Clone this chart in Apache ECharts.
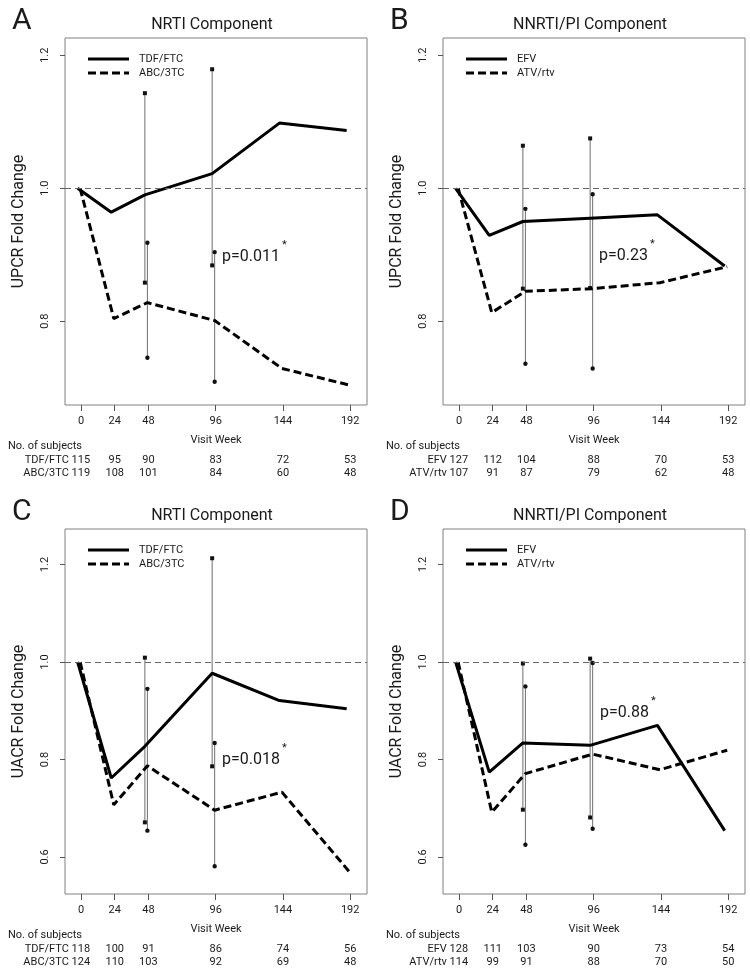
<!DOCTYPE html>
<html><head><meta charset="utf-8">
<script src="https://cdn.jsdelivr.net/npm/echarts@6/dist/echarts.min.js"></script>
<style>html,body{margin:0;padding:0;background:#fff}#c{width:750px;height:977px}</style>
</head><body><div id="c"></div>
<script>
// ---------- data ----------
const weeks = [0, 24, 48, 96, 144, 192];
const xTickLabels = [0, 24, 48, 96, 144, 192];

// Panel A (UPCR, NRTI)
const aTdfFtc = [1.000, 0.964, 0.990, 1.022, 1.098, 1.087];
const aAbc3tc = [1.000, 0.804, 0.828, 0.801, 0.729, 0.704];
const aTdfFtcErr = [[48, 0.858, 1.143], [96, 0.884, 1.179]];
const aAbc3tcErr = [[48, 0.745, 0.918], [96, 0.709, 0.904]];
const aTdfFtcN = [115, 95, 90, 83, 72, 53];
const aAbc3tcN = [119, 108, 101, 84, 60, 48];

// Panel B (UPCR, NNRTI/PI)
const bEfv = [1.000, 0.929, 0.950, 0.955, 0.960, 0.883];
const bAtvRtv = [1.000, 0.813, 0.845, 0.849, 0.858, 0.882];
const bEfvErr = [[48, 0.849, 1.064], [96, 0.850, 1.075]];
const bAtvRtvErr = [[48, 0.736, 0.969], [96, 0.729, 0.991]];
const bEfvN = [127, 112, 104, 88, 70, 53];
const bAtvRtvN = [107, 91, 87, 79, 62, 48];

// Panel C (UACR, NRTI)
const cTdfFtc = [1.000, 0.762, 0.827, 0.977, 0.921, 0.904];
const cAbc3tc = [1.000, 0.707, 0.787, 0.696, 0.733, 0.570];
const cTdfFtcErr = [[48, 0.671, 1.009], [96, 0.786, 1.213]];
const cAbc3tcErr = [[48, 0.654, 0.945], [96, 0.581, 0.834]];
const cTdfFtcN = [118, 100, 91, 86, 74, 56];
const cAbc3tcN = [124, 110, 103, 92, 69, 48];

// Panel D (UACR, NNRTI/PI)
const dEfv = [1.000, 0.774, 0.834, 0.829, 0.870, 0.654];
const dAtvRtv = [1.000, 0.692, 0.771, 0.811, 0.779, 0.819];
const dEfvErr = [[48, 0.697, 0.997], [96, 0.681, 1.007]];
const dAtvRtvErr = [[48, 0.625, 0.950], [96, 0.658, 0.998]];
const dEfvN = [128, 111, 103, 90, 73, 54];
const dAtvRtvN = [114, 99, 91, 88, 70, 50];

const pValues = ['p=0.011', 'p=0.23', 'p=0.018', 'p=0.88'];
const yTicksTop = [0.8, 1.0, 1.2];
const yTicksBottom = [0.6, 0.8, 1.0, 1.2];

// small horizontal jitter used in the original so the two groups don't overlap
const SOLID_SHIFT = -2.5;
const DASH_SHIFT = -0.7;

// ---------- layout / style ----------
const FONT = 'Roboto';
const TXT = '#1a1a1a';
const panels = [
  {letter:'A', title:'NRTI Component', yName:'UPCR Fold Change', names:['TDF/FTC','ABC/3TC'],
   s:aTdfFtc, d:aAbc3tc, sE:aTdfFtcErr, dE:aAbc3tcErr, sN:aTdfFtcN, dN:aAbc3tcN,
   grid:{left:65, top:38, width:302, height:367}, yMin:0.674, yMax:1.226, yTicks:yTicksTop,
   p:pValues[0], pPos:[222, 257]},
  {letter:'B', title:'NNRTI/PI Component', yName:'UPCR Fold Change', names:['EFV','ATV/rtv'],
   s:bEfv, d:bAtvRtv, sE:bEfvErr, dE:bAtvRtvErr, sN:bEfvN, dN:bAtvRtvN,
   grid:{left:443, top:38, width:302, height:367}, yMin:0.674, yMax:1.226, yTicks:yTicksTop,
   p:pValues[1], pPos:[599, 256]},
  {letter:'C', title:'NRTI Component', yName:'UACR Fold Change', names:['TDF/FTC','ABC/3TC'],
   s:cTdfFtc, d:cAbc3tc, sE:cTdfFtcErr, dE:cAbc3tcErr, sN:cTdfFtcN, dN:cAbc3tcN,
   grid:{left:65, top:529, width:302, height:365}, yMin:0.524, yMax:1.273, yTicks:yTicksBottom,
   p:pValues[2], pPos:[222, 760]},
  {letter:'D', title:'NNRTI/PI Component', yName:'UACR Fold Change', names:['EFV','ATV/rtv'],
   s:dEfv, d:dAtvRtv, sE:dEfvErr, dE:dAtvRtvErr, sN:dEfvN, dN:dAtvRtvN,
   grid:{left:443, top:529, width:302, height:365}, yMin:0.524, yMax:1.273, yTicks:yTicksBottom,
   p:pValues[3], pPos:[600, 713]}
];

function errRender(marker){
  return function(params, api){
    const x = api.value(0);
    const p1 = api.coord([x, api.value(1)]);
    const p2 = api.coord([x, api.value(2)]);
    const s = 4;
    const mk = p => marker === 'square'
      ? {type:'rect', shape:{x:p[0]-s/2, y:p[1]-s/2, width:s, height:s}, style:{fill:'#111'}}
      : {type:'circle', shape:{cx:p[0], cy:p[1], r:2.2}, style:{fill:'#111'}};
    return {type:'group', children:[
      {type:'line', shape:{x1:p1[0], y1:p1[1], x2:p2[0], y2:p2[1]}, style:{stroke:'#6e6e6e', lineWidth:1}},
      mk(p1), mk(p2)
    ]};
  };
}

const grids = [], xAxes = [], yAxes = [], series = [];
panels.forEach((P, i) => {
  grids.push(Object.assign({show:true, borderColor:'#808080', borderWidth:1, backgroundColor:'transparent'}, P.grid));
  xAxes.push({type:'value', gridIndex:i, min:-11.5, max:204,
    axisLine:{show:false, onZero:false}, splitLine:{show:false},
    axisTick:{show:true, customValues:weeks, length:6, inside:false, lineStyle:{color:'#555', width:1}},
    axisLabel:{customValues:xTickLabels, margin:11, fontSize:11, fontFamily:FONT, color:TXT},
    name:'Visit Week', nameLocation:'middle', nameGap:30,
    nameTextStyle:{fontSize:11, fontFamily:FONT, color:TXT}});
  yAxes.push({type:'value', gridIndex:i, min:P.yMin, max:P.yMax,
    axisLine:{show:false, onZero:false}, splitLine:{show:false},
    axisTick:{show:true, customValues:P.yTicks, length:5, lineStyle:{color:'#555', width:1}},
    axisLabel:{customValues:P.yTicks, rotate:90, margin:14, fontSize:11, fontFamily:FONT, color:TXT,
      formatter:v => v.toFixed(1)},
    name:P.yName, nameLocation:'middle', nameGap:38,
    nameTextStyle:{fontSize:16, fontFamily:FONT, color:TXT}});
  series.push({type:'custom', name:P.names[0]+' range', xAxisIndex:i, yAxisIndex:i, z:1,
    renderItem:errRender('square'), encode:{x:0, y:[1,2]},
    data:P.sE.map(e => [e[0]+SOLID_SHIFT, e[1], e[2]])});
  series.push({type:'custom', name:P.names[1]+' range', xAxisIndex:i, yAxisIndex:i, z:1,
    renderItem:errRender('circle'), encode:{x:0, y:[1,2]},
    data:P.dE.map(e => [e[0]+DASH_SHIFT, e[1], e[2]])});
  series.push({type:'line', name:P.names[0], xAxisIndex:i, yAxisIndex:i, z:3,
    symbol:'none', lineStyle:{color:'#000', width:3, type:'solid'}, itemStyle:{color:'#000'},
    data:weeks.map((w, k) => [w+SOLID_SHIFT, P.s[k]]),
    markLine:{silent:true, symbol:'none', label:{show:false},
      lineStyle:{color:'#666', width:1, type:[6,4]}, data:[{yAxis:1}]}});
  series.push({type:'line', name:P.names[1], xAxisIndex:i, yAxisIndex:i, z:3,
    symbol:'none', lineStyle:{color:'#000', width:3, type:[8,4]}, itemStyle:{color:'#000'},
    data:weeks.map((w, k) => [w+DASH_SHIFT, P.d[k]])});
});

const chart = echarts.init(document.getElementById('c'), null, {renderer:'canvas'});
chart.setOption({animation:false, backgroundColor:'#fff', grid:grids, xAxis:xAxes, yAxis:yAxes,
  series:series});

// ---------- annotations: letters, titles, legends, p-values, subject tables ----------
const ctx = document.createElement('canvas').getContext('2d');
function tw(text, size){ ctx.font = size + 'px ' + FONT; return ctx.measureText(text).width; }
const g = [];
function txt(text, x, y, size, align, vAlign){
  g.push({type:'text', x:x, y:y, silent:true,
    style:{text:text, fill:TXT, font:size+'px '+FONT, align:align||'left', verticalAlign:vAlign||'middle'}});
}
panels.forEach((P, i) => {
  const L = P.grid.left, T = P.grid.top, B = T + P.grid.height;
  const cx = L + P.grid.width/2;
  txt(P.letter, L - 53, T - 17, 30, 'left', 'middle');
  txt(P.title, cx - 4, T - 13, 16, 'center', 'middle');
  // legend
  [[P.names[0], null], [P.names[1], [8,4]]].forEach((it, k) => {
    const y = T + 21 + k*14;
    g.push({type:'line', silent:true, shape:{x1:L+23, y1:y, x2:L+64, y2:y},
      style:{stroke:'#000', lineWidth:3, lineDash:it[1]}});
    txt(it[0], L + 74, y, 11, 'left', 'middle');
  });
  txt(P.p, P.pPos[0], P.pPos[1], 16, 'left', 'middle');
  txt('*', P.pPos[0] + tw(P.p, 16) + 2, P.pPos[1] - 12, 11, 'left', 'middle');
  txt('No. of subjects', L - 57, B + 41, 11, 'left', 'middle');
  const xs = weeks.map(w => chart.convertToPixel({xAxisIndex:i}, w));
  const rows = [[P.names[0], P.sN], [P.names[1], P.dN]];
  rows.forEach((r, k) => {
    const y = B + 55 + k*13.3;
    txt(r[0] + ' ' + r[1][0], xs[0] + 9, y, 11, 'right', 'middle');
    for (let j = 1; j < weeks.length; j++) txt(String(r[1][j]), xs[j], y, 11, 'center', 'middle');
  });
});
chart.setOption({graphic:{elements:g}});
</script></body></html>
